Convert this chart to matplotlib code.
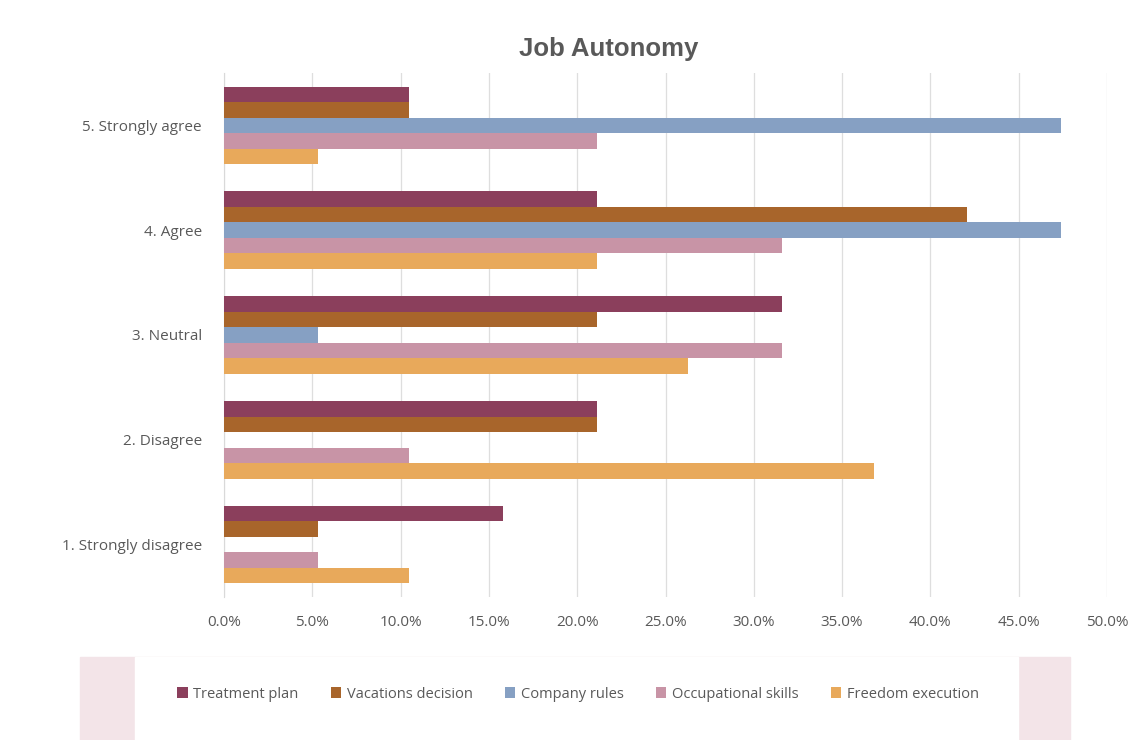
import numpy as np
import matplotlib
matplotlib.use("Agg")
import matplotlib.pyplot as plt
from matplotlib.patches import Rectangle

plt.rcParams['font.family'] = ['Open Sans', 'DejaVu Sans']

categories = ["1. Strongly disagree", "2. Disagree", "3. Neutral", "4. Agree", "5. Strongly agree"]
series = ["Treatment plan", "Vacations decision", "Company rules", "Occupational skills", "Freedom execution"]
# values in percent, bottom category first
treatment = [15.8, 21.1, 31.6, 21.1, 10.5]
vacations = [5.3, 21.1, 21.1, 42.1, 10.5]
company = [0.0, 0.0, 5.3, 47.4, 47.4]
occupational = [5.3, 10.5, 31.6, 31.6, 21.1]
freedom = [10.5, 36.8, 26.3, 21.1, 5.3]
colors = ["#8B3F5C", "#A8652B", "#86A0C3", "#C894A6", "#E8A95B"]

values = [treatment, vacations, company, occupational, freedom]
text_col = "#595959"

fig = plt.figure(figsize=(11.31, 7.4), dpi=100)

# legend background panel (as in the screenshot)
fig.patches.append(Rectangle((80 / 1131, 0), (1070 - 80) / 1131, 83 / 740,
                             transform=fig.transFigure, color="#f3e4e8", zorder=0))
fig.patches.append(Rectangle((135 / 1131, 0), (1018 - 135) / 1131, 83 / 740,
                             transform=fig.transFigure, color="white", zorder=0))

ax = fig.add_axes([224 / 1131, 1 - 597 / 740, (1107 - 224) / 1131, 524 / 740])

y = np.arange(len(categories))
h = 0.148
for i, (name, vals) in enumerate(zip(series, values)):
    offset = (2 - i) * h
    ax.barh(y + offset, vals, height=h, color=colors[i], label=name, zorder=3)

ax.set_xlim(0, 50)
ax.set_ylim(-0.5, 4.5)
ax.set_xticks(np.arange(0, 51, 5))
ax.set_xticklabels([f"{v:.1f}%" for v in np.arange(0, 51, 5)])
ax.set_yticks(y)
ax.set_yticklabels(categories)
ax.tick_params(axis='both', length=0, labelsize=11, colors=text_col)
ax.tick_params(axis='x', pad=13)
ax.tick_params(axis='y', pad=16)
ax.grid(axis='x', color="#dedede", linewidth=0.9, zorder=0)
for s in ["top", "right", "bottom"]:
    ax.spines[s].set_visible(False)
ax.spines["left"].set_color("#d9d9d9")

fig.text(609 / 1131, 1 - 49 / 740, "Job Autonomy", ha='center', va='center',
         fontsize=18.5, fontweight='bold', color=text_col,
         family=['Liberation Sans', 'DejaVu Sans'])

handles, labels = ax.get_legend_handles_labels()
fig.legend(handles, labels, loc='center', bbox_to_anchor=(578 / 1131, 1 - 694 / 740),
           ncol=5, frameon=False, fontsize=10.5, labelcolor=text_col,
           handlelength=0.7, handleheight=0.7, handletextpad=0.4, columnspacing=2.2)

fig.savefig("out.png", dpi=100)
